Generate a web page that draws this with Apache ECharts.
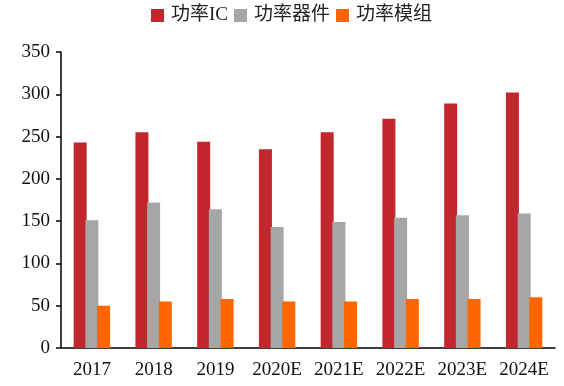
<!DOCTYPE html>
<html><head><meta charset="utf-8">
<script src="https://cdn.jsdelivr.net/npm/echarts@6/dist/echarts.min.js"></script>
<style>html,body{margin:0;padding:0;background:#fff}#c{width:564px;height:386px}</style>
</head><body><div id="c"></div>
<script>
const categories = ['2017','2018','2019','2020E','2021E','2022E','2023E','2024E'];
const powerIC = [243, 255, 244, 235, 255, 271, 289, 302];
const powerDevice = [151, 172, 164, 143, 149, 154, 157, 159];
const powerModule = [50, 55, 58, 55, 55, 58, 58, 60];
const seriesNames = ['功率IC','功率器件','功率模组'];
const yTicks = {min:0, max:350, interval:50};

const font = '"Liberation Serif","Noto Sans CJK SC",serif';
const chart = echarts.init(document.getElementById('c'));
chart.setOption({
  animation:false,
  legend:{top:1, left:146, itemWidth:13, itemHeight:13, itemGap:6,
    icon:'rect', textStyle:{fontFamily:font, fontSize:19, color:'#222', padding:[0,0,0,2]}},
  grid:{left:61, right:9, top:52, bottom:38},
  xAxis:{type:'category', data:categories,
    axisLine:{lineStyle:{color:'#000', width:1.5}}, axisTick:{show:false},
    axisLabel:{interval:0, fontFamily:font, fontSize:19, color:'#111', margin:13}},
  yAxis:{type:'value', min:yTicks.min, max:yTicks.max, interval:yTicks.interval,
    axisLine:{show:true, lineStyle:{color:'#000', width:1.5}},
    axisTick:{show:true, length:5, lineStyle:{color:'#000', width:1.5}},
    splitLine:{show:false},
    axisLabel:{fontFamily:font, fontSize:19, color:'#111', margin:11}},
  series:[
    {name:seriesNames[0], type:'bar', data:powerIC, barWidth:13, barGap:'-10%', itemStyle:{color:'#C1272D'}},
    {name:seriesNames[1], type:'bar', data:powerDevice, barWidth:13, barGap:'-10%', itemStyle:{color:'#A6A6A6'}},
    {name:seriesNames[2], type:'bar', data:powerModule, barWidth:13, barGap:'-10%', itemStyle:{color:'#FF6600'}}
  ]
});
</script></body></html>
